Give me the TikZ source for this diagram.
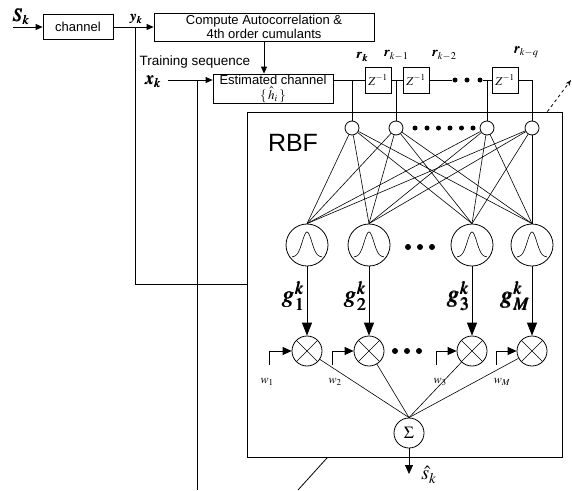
\documentclass[tikz,border=0pt]{standalone}
\usepackage{mathptmx}
\usepackage{bm}
\usepackage[no-math]{fontspec}
\setsansfont{Liberation Sans}
\usetikzlibrary{arrows.meta}
\tikzset{
  blocco/.style  = {rectangle, draw, line width=0.8pt, inner sep=1pt, align=center, font=\sffamily\fontsize{13}{13.5}\selectfont},
  testo/.style   = {inner sep=0, font=\sffamily\fontsize{13.5}{13.5}\selectfont},
  ritardo/.style = {rectangle, draw, line width=0.8pt, minimum size=26pt, inner sep=0, font=\fontsize{12}{12}\selectfont},
  ingr/.style    = {circle, draw, line width=0.8pt, minimum size=14pt, inner sep=0},
  punto/.style   = {circle, fill, minimum size=5pt, inner sep=0},
  gauss/.style   = {circle, draw, line width=0.8pt, minimum size=42pt, inner sep=0,
                    path picture={\draw[line width=0.6pt, x=1pt, y=1pt, shift={(path picture bounding box.center)}]
                      plot[domain=-15:15, samples=41, smooth] (\x, {-12+25*exp(-0.022*\x*\x)});}},
  molt/.style    = {circle, draw, line width=0.8pt, minimum size=30pt, inner sep=0,
                    path picture={\draw[line width=0.6pt] (path picture bounding box.north west) -- (path picture bounding box.south east)
                      (path picture bounding box.north east) -- (path picture bounding box.south west);}},
  somma/.style   = {circle, draw, line width=0.8pt, minimum size=30pt, inner sep=0, font=\fontsize{17}{17}\selectfont},
  link/.style    = {line width=0.8pt},
  rete/.style    = {line width=0.6pt},
  et/.style      = {inner sep=1pt, font=\fontsize{14}{14}\selectfont},
  fr/.style      = {link, -{Triangle[length=7pt, width=6pt]}},
  frm/.style     = {link, -{Triangle[length=9pt, width=8pt]}},
  frg/.style     = {link, -{Triangle[length=13pt, width=10pt]}}
}

\begin{document}
\begin{tikzpicture}[x=1pt, y=-1pt]
  \useasboundingbox (0,0) rectangle (572,490);

  \node[blocco, minimum width=70pt, minimum height=25pt] (ch) at (78,27) {channel};
  \node[blocco, minimum width=220pt, minimum height=28pt] (comp) at (264,27) {Compute Autocorrelation \&\\4th order cumulants};
  \node[blocco, minimum width=120pt, minimum height=29pt, inner sep=0.5pt, font=\sffamily\fontsize{13}{12}\selectfont] (est) at (273,88.5) {Estimated channel\\[3pt]$\{\,\hat{h}_i\,\}$};
  \node[testo] (ts) at (195,62) {Training sequence};

  \node[et, font=\fontsize{18}{18}\selectfont] (lsk) at (21,17) {$\bm{S_k}$};
  \node[et] (lyk) at (136,19) {$\bm{y_k}$};
  \node[et, font=\fontsize{18}{18}\selectfont] (lxk) at (153,82) {$\bm{x_k}$};

  \coordinate (sin) at (13,27); \draw[fr] (sin) -- (ch);
  \draw[fr] (ch) -- (comp);
  \draw[fr] (comp.south) -- (comp.south |- est.north);
  \coordinate (xin) at (168,80); \draw[fr] (xin) -- (xin -| est.west);
  \coordinate (xb) at (197,80); \coordinate (xd) at (197,490); \draw[link] (xb) -- (xd);
  \coordinate (yb) at (135,27);

  \node[draw, link, minimum width=315pt, minimum height=345pt, inner sep=0] (rbf) at (404.5,284.5) {};
  \node[font=\sffamily\fontsize{25}{25}\selectfont] (lrbf) at (293,143) {RBF};
  \draw[link] (yb) |- (rbf.west);
  \coordinate (dp) at (571,80); \draw[link, dashed, -{Stealth[length=6pt]}] ([xshift=-15pt]rbf.north east) -- (dp);
  \coordinate (bd) at (298,490); \draw[link] ([xshift=-77pt]rbf.south) -- (bd);

  \node[ritardo] (z1) at (378,80) {$Z^{-1}$};
  \node[ritardo] (z2) at (416,80) {$Z^{-1}$};
  \node[ritardo] (z3) at (505,80) {$Z^{-1}$};
  \node[punto] (cd1) at (455,80) {}; \node[punto] (cd2) at (467,80) {}; \node[punto] (cd3) at (480,80) {};
  \draw[link] (est.east |- z1) -- (z1); \draw[link] (z1) -- (z2); \draw[link] (z2) -- (cd1); \draw[link] (cd3) -- (z3);

  \node[et] (lr1) at (362,57) {$\bm{r_k}$};
  \node[et] (lr2) at (396,55) {$\bm{r_{k-1}}$};
  \node[et] (lr3) at (444,55) {$\bm{r_{k-2}}$};
  \node[et] (lr4) at (526,52) {$\bm{r_{k-q}}$};

  \node[ingr] (i1) at (352,128) {}; \draw[link] (i1) -- (i1 |- z1);
  \node[ingr] (i2) at (396,128) {}; \draw[link] (i2) -- (i2 |- z1);
  \node[ingr] (i3) at (487,128) {}; \draw[link] (i3) -- (i3 |- z1);
  \node[ingr] (i4) at (532,128) {}; \draw[link] (z3) -| (i4);
  \node[punto] (id1) at (415,128) {}; \node[punto] (id2) at (427,128) {}; \node[punto] (id3) at (438.5,128) {};
  \node[punto] (id4) at (450,128) {}; \node[punto] (id5) at (461.5,128) {}; \node[punto] (id6) at (473,128) {};

  \node[gauss] (g1) at (307,245) {};
  \node[gauss] (g2) at (369,245) {};
  \node[gauss] (g3) at (472,245) {};
  \node[gauss] (g4) at (532,245) {};
  \node[punto, minimum size=6pt] (gd1) at (408,247) {}; \node[punto, minimum size=6pt] (gd2) at (420,247) {}; \node[punto, minimum size=6pt] (gd3) at (432,247) {};
  \foreach \a in {i1,i2,i3,i4} \foreach \b in {g1,g2,g3,g4} \draw[rete] (\a) -- (\b.north);

  \node[molt] (m1) at (307,351) {}; \draw[frg] (g1) -- (m1);
  \node[molt] (m2) at (369,351) {}; \draw[frg] (g2) -- (m2);
  \node[molt] (m3) at (472,351) {}; \draw[frg] (g3) -- (m3);
  \node[molt] (m4) at (532,351) {}; \draw[frg] (g4) -- (m4);
  \node[punto, minimum size=6pt] (md1) at (395,351) {}; \node[punto, minimum size=6pt] (md2) at (407,351) {}; \node[punto, minimum size=6pt] (md3) at (419,351) {};

  \node[et, left, font=\fontsize{24}{24}\selectfont] (lg1) at (306,296) {$\bm{g_1^k}$};
  \node[et, left, font=\fontsize{24}{24}\selectfont] (lg2) at (368,296) {$\bm{g_2^k}$};
  \node[et, left, font=\fontsize{24}{24}\selectfont] (lg3) at (471,296) {$\bm{g_3^k}$};
  \node[et, left, font=\fontsize{24}{24}\selectfont] (lg4) at (531,296) {$\bm{g_M^k}$};

  \coordinate (w1) at (269,365); \draw[frm] (w1) |- (m1);
  \coordinate (w2) at (332,365); \draw[frm] (w2) |- (m2);
  \coordinate (w3) at (436,365); \draw[frm] (w3) |- (m3);
  \coordinate (w4) at (496,365); \draw[frm] (w4) |- (m4);
  \node[et, font=\fontsize{12}{12}\selectfont] (lw1) at (267,382) {$w_1$};
  \node[et, font=\fontsize{12}{12}\selectfont] (lw2) at (335,382) {$w_2$};
  \node[et, font=\fontsize{12}{12}\selectfont] (lw3) at (440,382) {$w_3$};
  \node[et, font=\fontsize{12}{12}\selectfont] (lw4) at (502,382) {$w_M$};

  \node[somma] (s) at (409,433) {$\Sigma$};
  \foreach \m in {m1,m2,m3,m4} \draw[rete] (\m) -- (s.north);
  \coordinate (so) at (409,474); \draw[frm] (s) -- (so);
  \node[et, font=\fontsize{20}{20}\selectfont] (lsh) at (429,475) {$\hat{s}_k$};
\end{tikzpicture}
\end{document}
